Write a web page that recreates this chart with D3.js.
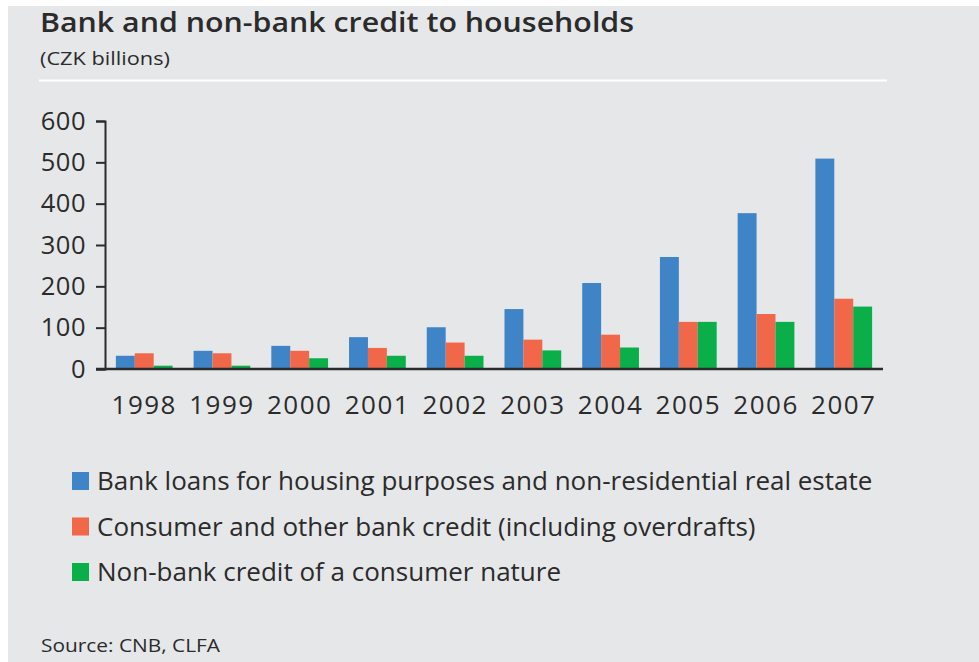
<!DOCTYPE html>
<html>
<head>
<meta charset="utf-8">
<script src="https://cdn.jsdelivr.net/npm/d3@7"></script>
<style>
  body { margin: 0; background: #fff; }
  svg text { font-family: "Open Sans", "Liberation Sans", sans-serif; fill: #2b2b2b; }
</style>
</head>
<body>
<svg id="chart" width="979" height="662"></svg>
<script>
// chart data
const years = ['1998', '1999', '2000', '2001', '2002', '2003', '2004', '2005', '2006', '2007'];
const housingLoans = [32, 44, 56, 77, 101, 145, 208, 271, 377, 509];
const consumerBank = [38, 38, 44, 51, 64, 71, 83, 114, 133, 170];
const nonBank = [8, 8, 26, 32, 32, 45, 52, 114, 114, 151];
const seriesNames = [
  'Bank loans for housing purposes and non-residential real estate',
  'Consumer and other bank credit (including overdrafts)',
  'Non-bank credit of a consumer nature'
];
const yTicks = [0, 100, 200, 300, 400, 500, 600];

const colors = ['#3f84c6', '#f0674a', '#0aaf4a'];
const allSeries = [housingLoans, consumerBank, nonBank];

const svg = d3.select('#chart');

// grey panel
svg.append('rect')
  .attr('x', 8).attr('y', 6)
  .attr('width', 971).attr('height', 656)
  .attr('fill', '#e6e7e9');

// title block
svg.append('text')
  .attr('x', 40).attr('y', 32)
  .attr('font-size', 27)
  .attr('font-weight', 600)
  .attr('textLength', 594)
  .attr('lengthAdjust', 'spacingAndGlyphs')
  .text('Bank and non-bank credit to households');

svg.append('text')
  .attr('x', 40).attr('y', 65)
  .attr('font-size', 19)
  .attr('textLength', 130)
  .attr('lengthAdjust', 'spacingAndGlyphs')
  .text('(CZK billions)');

svg.append('line')
  .attr('x1', 39).attr('x2', 887)
  .attr('y1', 80.5).attr('y2', 80.5)
  .attr('stroke', '#fff').attr('stroke-width', 2);

// scales
const x0 = d3.scaleBand()
  .domain(years)
  .range([105, 883])
  .paddingInner(0.27)
  .paddingOuter(0.14);

const x1 = d3.scaleBand()
  .domain([0, 1, 2])
  .range([0, x0.bandwidth()]);

const y = d3.scaleLinear()
  .domain([0, 600])
  .range([369, 121]);

// bars
const groups = svg.append('g')
  .selectAll('g')
  .data(years)
  .join('g')
  .attr('transform', d => `translate(${x0(d)},0)`);

groups.selectAll('rect')
  .data((d, i) => allSeries.map((s, k) => ({ k, v: s[i] })))
  .join('rect')
  .attr('x', d => x1(d.k))
  .attr('width', x1.bandwidth())
  .attr('y', d => y(d.v))
  .attr('height', d => y(0) - y(d.v))
  .attr('fill', d => colors[d.k]);

// y axis
const yAxis = svg.append('g')
  .attr('transform', 'translate(105,0)')
  .call(d3.axisLeft(y).tickValues(yTicks).tickSize(9).tickPadding(10));
yAxis.select('.domain').attr('stroke', '#2b2b2b').attr('stroke-width', 2);
yAxis.selectAll('.tick line').attr('stroke', '#2b2b2b').attr('stroke-width', 2);
yAxis.selectAll('.tick text')
  .attr('font-size', 25.5)
  .attr('letter-spacing', 0.5)
  .attr('fill', '#2b2b2b')
  .attr('font-family', '"Open Sans", sans-serif');

// x axis baseline + year labels
const xAxis = svg.append('g')
  .attr('transform', `translate(0,${y(0)})`)
  .call(d3.axisBottom(x0).tickSize(0).tickPadding(27));
xAxis.select('.domain').remove();
xAxis.append('line')
  .attr('x1', 96).attr('x2', 883)
  .attr('stroke', '#2b2b2b').attr('stroke-width', 2.5);
xAxis.selectAll('.tick text')
  .attr('font-size', 26)
  .attr('letter-spacing', 1.5)
  .attr('fill', '#2b2b2b')
  .attr('font-family', '"Open Sans", sans-serif');

// legend
const legend = svg.append('g')
  .selectAll('g')
  .data(seriesNames)
  .join('g')
  .attr('transform', (d, i) => `translate(72,${481 + i * 45.5})`);

legend.append('rect')
  .attr('x', 0).attr('y', -9)
  .attr('width', 17).attr('height', 18)
  .attr('fill', (d, i) => colors[i]);

legend.append('text')
  .attr('x', 25).attr('y', 0)
  .attr('dy', '0.35em')
  .attr('font-size', 26)
  .text(d => d);

// source note
svg.append('text')
  .attr('x', 41).attr('y', 652)
  .attr('font-size', 19)
  .attr('textLength', 179)
  .attr('lengthAdjust', 'spacingAndGlyphs')
  .text('Source: CNB, CLFA');
</script>
</body>
</html>
